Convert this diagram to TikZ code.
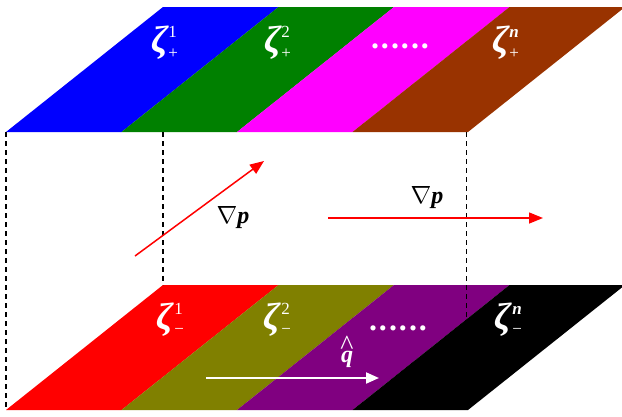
\documentclass[tikz,border=0pt]{standalone}
\usepackage{fontspec}
\setmainfont{Liberation Serif}
\usetikzlibrary{arrows.meta}
\definecolor{PlusBlue}{HTML}{0000FF}
\definecolor{PlusGreen}{HTML}{008000}
\definecolor{PlusMagenta}{HTML}{FF00FF}
\definecolor{PlusBrown}{HTML}{993300}
\definecolor{MinusRed}{HTML}{FF0000}
\definecolor{MinusOlive}{HTML}{808000}
\definecolor{MinusPurple}{HTML}{800080}
\definecolor{MinusBlack}{HTML}{000000}

\newcommand{\zscript}{\fontsize{17}{17}\selectfont}
\newcommand{\zetaplus}[1]{\mbox{\bfseries\itshape ζ}\kern0.5pt\rlap{\raisebox{14.5pt}{\zscript #1}}\raisebox{-6.5pt}{\zscript +}}
\newcommand{\zetaminus}[1]{\mbox{\bfseries\itshape ζ}\kern1.5pt\rlap{\raisebox{14.5pt}{\zscript #1}}\raisebox{-5pt}{\zscript −}}
\newcommand{\gradp}{$\nabla$\textbf{\textit{p}}}
\newcommand{\dotrow}{.\kern2pt.\kern2pt.\kern2pt.\kern2pt.\kern2pt.}

\begin{document}
\begin{tikzpicture}[x=1pt,y=-1pt,
    zlabel/.style={text=white,inner sep=0pt,anchor=base west,font=\fontsize{38}{38}\selectfont},
    dotlabel/.style={text=white,inner sep=0pt,font=\fontsize{32}{32}\selectfont\bfseries},
    gradlabel/.style={inner sep=0pt,font=\fontsize{24}{24}\selectfont},
    edge/.style={black,line width=1.3pt,dash pattern=on 5pt off 4pt},
    redarrow/.style={-{Triangle[length=14pt,width=11pt]},MinusRed,line width=1.5pt},
    whitearrow/.style={-{Triangle[length=13pt,width=11pt]},white,line width=2pt}
  ]
    \useasboundingbox (0,0) rectangle (622,416);

    % upper layer
    \fill[PlusBlue]    (6,132) -- (121.5,132) -- (278.5,7) -- (163,7) -- cycle;
    \fill[PlusGreen]   (121.5,132) -- (237,132) -- (394,7) -- (278.5,7) -- cycle;
    \fill[PlusMagenta] (237,132) -- (352.5,132) -- (509.5,7) -- (394,7) -- cycle;
    \fill[PlusBrown]   (352.5,132) -- (468,132) -- (625,7) -- (509.5,7) -- cycle;

    % lower layer
    \fill[MinusRed]    (6,410) -- (121.5,410) -- (278.5,285) -- (163,285) -- cycle;
    \fill[MinusOlive]  (121.5,410) -- (237,410) -- (394,285) -- (278.5,285) -- cycle;
    \fill[MinusPurple] (237,410) -- (352.5,410) -- (509.5,285) -- (394,285) -- cycle;
    \fill[MinusBlack]  (352.5,410) -- (468,410) -- (625,285) -- (509.5,285) -- cycle;

    % vertical edges
    \coordinate (topA) at (6,132);
    \coordinate (botA) at (6,410);
    \coordinate (topB) at (163,132);
    \coordinate (botB) at (163,285);
    \coordinate (topC) at (466.5,132);
    \coordinate (botC) at (466.5,320);
    \draw[edge] (topA) -- (botA);
    \draw[edge] (topB) -- (botB);
    \draw[edge] (topC) -- (botC);

    \node[zlabel] (zp1) at (151,52) {\zetaplus{1}};
    \node[zlabel] (zp2) at (264,52) {\zetaplus{2}};
    \node[dotlabel] (dotsp) at (400,46) {\dotrow};
    \node[zlabel] (zpn) at (492,52) {\zetaplus{\textbf{\textit{n}}}};

    \node[zlabel] (zm1) at (156,329) {\zetaminus{1}};
    \node[zlabel] (zm2) at (263,329) {\zetaminus{2}};
    \node[dotlabel] (dotsm) at (398,328) {\dotrow};
    \node[zlabel] (zmn) at (494,329) {\zetaminus{\textbf{\textit{n}}}};

    \node[gradlabel] (gradA) at (233,218) {\gradp};
    \node[gradlabel] (gradB) at (427,198) {\gradp};
    \node[gradlabel,text=white,align=center] (qhat) at (347,352)
      {{\fontsize{28}{28}\selectfont\textasciicircum}\\[-16pt]\textbf{\textit{q}}};

    \coordinate (gradA-s) at (135,256);
    \coordinate (gradA-e) at (264,161);
    \coordinate (gradB-s) at (328,218);
    \coordinate (gradB-e) at (543,218);
    \coordinate (qhat-s) at (206,378);
    \coordinate (qhat-e) at (379,378);
    \draw[redarrow] (gradA-s) -- (gradA-e);
    \draw[redarrow] (gradB-s) -- (gradB-e);
    \draw[whitearrow] (qhat-s) -- (qhat-e);
  \end{tikzpicture}
\end{document}
